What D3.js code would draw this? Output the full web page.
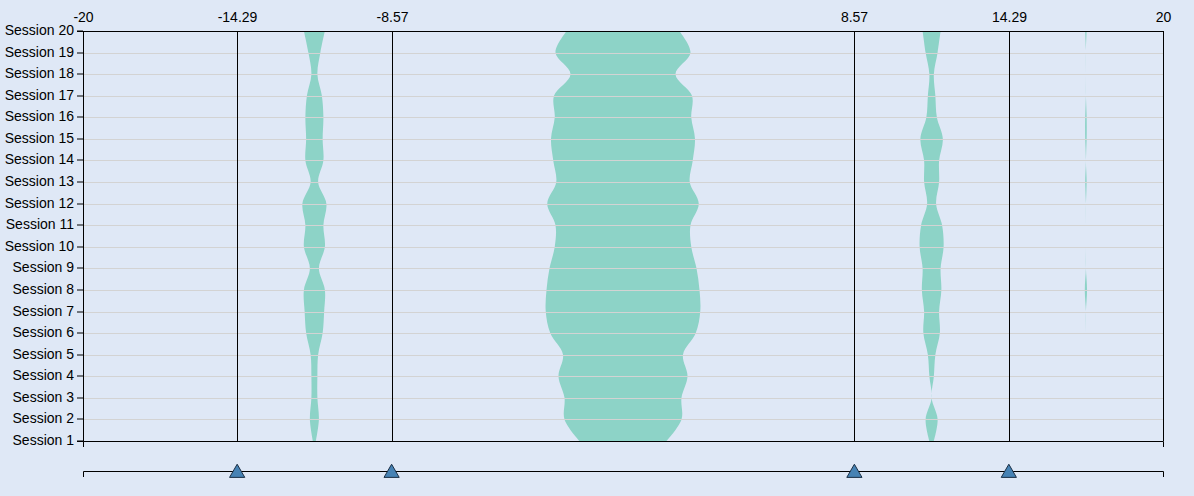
<!DOCTYPE html>
<html>
<head>
<meta charset="utf-8">
<script src="https://cdn.jsdelivr.net/npm/d3@7"></script>
<style>
  html, body { margin: 0; padding: 0; background: #dfe8f6; }
  svg { display: block; font-family: "Liberation Sans", Arial, sans-serif; }
</style>
</head>
<body>
<svg id="chart" width="1194" height="496"></svg>
<script>
// ---- data ----
const sessions = ["Session 1","Session 2","Session 3","Session 4","Session 5","Session 6","Session 7","Session 8","Session 9","Session 10",
                  "Session 11","Session 12","Session 13","Session 14","Session 15","Session 16","Session 17","Session 18","Session 19","Session 20"];
const binEdges = [-20, -14.29, -8.57, 8.57, 14.29, 20];
const tickLabels = ["-20", "-14.29", "-8.57", "8.57", "14.29", "20"];
const thresholds = [-14.29, -8.57, 8.57, 14.29];
// counts per session (Session 1 .. Session 20) for each bin
const bin1 = [0,0,0,0,0,0,0,0,0,0,0,0,0,0,0,0,0,0,0,0];
const bin2 = [2, 6, 4, 4, 5, 11, 13, 14, 6, 14, 12, 16, 5, 12, 11, 12, 10, 4, 8, 14];
const bin3 = [58, 78, 78, 86, 80, 97, 103, 102, 98, 91, 90, 101, 89, 93, 96, 91, 92, 70, 90, 75];
const bin4 = [3, 8, 0, 3, 5, 11, 10, 13, 12, 16, 14, 6, 10, 10, 15, 7, 5, 3, 8, 12];
const bin5 = [0, 0, 0, 0, 0, 0, 0, 1.5, 0, 0, 0, 0, 1, 0, 1, 1, 0, 0, 0, 1];
const bins = [bin1, bin2, bin3, bin4, bin5];

// ---- layout ----
const margin = {top: 31, left: 83, right: 31, bottom: 55};
const innerW = 1080, innerH = 410;

const svg = d3.select("#chart");
const g = svg.append("g").attr("transform", `translate(${margin.left},${margin.top})`);

const x = d3.scaleLinear().domain([-20, 20]).range([0, innerW]);
const xr = x.copy().interpolate(d3.interpolateRound);
const y = d3.scalePoint().domain(sessions).range([innerH, 0]);
const yr = y.copy().round(false);
const wScale = d3.scaleLinear().domain([0, 100]).range([0, 150]);

// streams
const area = d3.area()
  .curve(d3.curveCatmullRom)
  .y((d, i) => y(sessions[i]))
  .x0(d => d.c - wScale(d.v) / 2)
  .x1(d => d.c + wScale(d.v) / 2);

bins.forEach((vals, b) => {
  const c = x((binEdges[b] + binEdges[b + 1]) / 2);
  const pts = vals.map(v => ({c, v}));
  if (d3.max(vals) > 0) {
    g.append("path").datum(pts).attr("d", area).attr("fill", "#8dd3c7");
  }
});

// horizontal gridlines
g.append("g").selectAll("line").data(sessions).join("line")
  .attr("x1", 0).attr("x2", innerW)
  .attr("y1", d => Math.round(y(d)) + 0.5).attr("y2", d => Math.round(y(d)) + 0.5)
  .attr("stroke", "#d3d3d3").attr("stroke-width", 1);

// top axis with vertical threshold lines
const topAxis = d3.axisTop(xr).tickValues(binEdges)
  .tickFormat((d, i) => tickLabels[i]).tickSize(-innerH).tickSizeOuter(0).tickPadding(9);
const ta = g.append("g").call(topAxis);
ta.selectAll("text").attr("font-size", 14).attr("font-family", "Liberation Sans, Arial, sans-serif").attr("fill", "#000");
ta.selectAll("line").attr("stroke", "#000");

// left axis
const leftAxis = d3.axisLeft(y.copy()).tickSize(6);
const la = g.append("g").call(leftAxis);
la.selectAll(".tick").attr("transform", d => `translate(0,${Math.round(y(d))})`);
la.selectAll("text").attr("font-size", 14).attr("font-family", "Liberation Sans, Arial, sans-serif").attr("fill", "#000");

// bottom axis (domain only)
g.append("g").attr("transform", `translate(0,${innerH})`)
  .call(d3.axisBottom(xr).tickValues([]).tickSizeOuter(6));

// slider
const sliderY = 440;
g.append("g").attr("transform", `translate(0,${sliderY})`)
  .call(d3.axisBottom(xr).tickValues([]).tickSizeOuter(6));

g.append("g").selectAll("path").data(thresholds).join("path")
  .attr("d", d3.symbol(d3.symbolTriangle, 100))
  .attr("transform", d => `translate(${x(d)},${sliderY + 2})`)
  .attr("fill", "#4682b4")
  .attr("stroke", "#1b2f45")
  .attr("stroke-width", 1);
</script>
</body>
</html>
